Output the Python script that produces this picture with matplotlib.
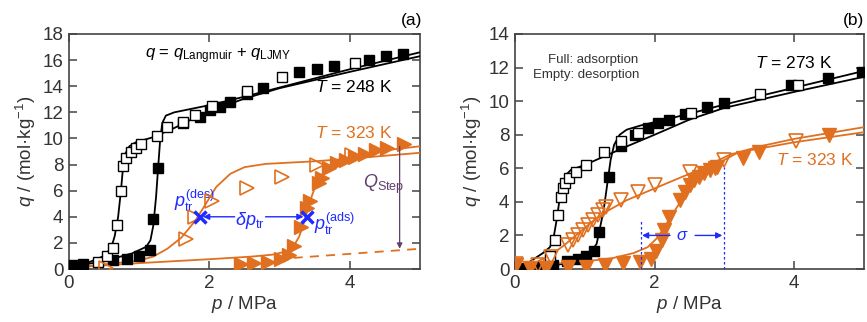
import matplotlib
matplotlib.use("Agg")
import matplotlib.pyplot as plt

plt.rcParams['font.family'] = ['Liberation Sans', 'DejaVu Sans']
plt.rcParams['mathtext.fontset'] = 'custom'
plt.rcParams['mathtext.rm'] = 'Liberation Sans'
plt.rcParams['mathtext.it'] = 'Liberation Sans:italic'
plt.rcParams['mathtext.sf'] = 'Liberation Sans'

ORANGE = '#E0701F'
BLUE = '#1E2BFF'
PURPLE = '#5E3F6E'
TXT = '#333333'

# ---------------- Panel (a) data ----------------
a248_ads_p = [0.04, 0.2, 0.63, 0.82, 1.0, 1.15, 1.2, 1.27, 1.63, 1.87, 2.01, 2.15, 2.29, 2.53, 2.76, 3.28, 3.53, 3.77, 4.27, 4.51, 4.76]
a248_ads_q = [0.3, 0.4, 0.72, 0.8, 1.0, 1.43, 3.8, 7.7, 11.15, 11.66, 12.17, 12.4, 12.8, 13.4, 13.85, 15.1, 15.3, 15.55, 16.0, 16.3, 16.5]
a248_des_p = [0.42, 0.54, 0.63, 0.69, 0.74, 0.77, 0.81, 0.88, 0.95, 1.03, 1.25, 1.40, 1.63, 1.80, 2.03, 2.53, 3.03, 4.07]
a248_des_q = [0.55, 1.0, 1.6, 3.35, 5.95, 7.9, 8.5, 9.0, 9.3, 9.55, 10.2, 10.84, 11.27, 11.8, 12.48, 13.6, 14.7, 15.8]

a248_fit_ads_p = [0, 0.5, 0.9, 1.1, 1.16, 1.2, 1.24, 1.27, 1.3, 1.33, 1.38, 1.5, 2.0, 2.5, 3.0, 4.0, 5.0]
a248_fit_ads_q = [0.15, 0.6, 1.2, 1.7, 2.2, 3.3, 5.5, 7.8, 10.0, 11.2, 11.75, 12.0, 12.55, 13.2, 13.9, 15.3, 16.6]
a248_fit_des_p = [0, 0.3, 0.5, 0.6, 0.65, 0.7, 0.74, 0.77, 0.8, 0.86, 0.95, 1.2, 1.5, 1.8, 2.0, 2.5, 3.0, 4.0, 5.0]
a248_fit_des_q = [0.15, 0.55, 1.0, 1.6, 2.5, 4.0, 6.0, 7.8, 8.8, 9.4, 9.7, 10.1, 10.8, 11.6, 12.1, 13.05, 13.85, 15.1, 16.3]

a323_ads_p = [2.45, 2.64, 2.83, 3.02, 3.14, 3.21, 3.3, 3.39, 3.44, 3.56, 3.6, 3.7, 3.82, 3.94, 4.08, 4.22, 4.37, 4.53, 4.77]
a323_ads_q = [0.4, 0.46, 0.54, 0.8, 1.05, 1.8, 3.2, 4.7, 5.2, 6.6, 7.0, 7.7, 8.1, 8.35, 8.6, 8.8, 9.1, 9.3, 9.6]
a323_des_p = [0.53, 1.66, 1.80, 2.04, 2.54, 3.03, 3.53, 4.03]
a323_des_q = [0.08, 2.3, 4.0, 5.2, 6.2, 7.05, 8.0, 8.7]

a323_fit_ads_p = [0, 1.0, 2.0, 2.6, 2.9, 3.1, 3.2, 3.28, 3.35, 3.42, 3.5, 3.6, 3.75, 3.95, 4.25, 4.6, 5.0]
a323_fit_ads_q = [0.1, 0.45, 0.75, 0.95, 1.1, 1.35, 1.75, 2.5, 3.6, 5.0, 6.2, 7.2, 7.9, 8.4, 8.85, 9.15, 9.4]
a323_fit_des_p = [0, 0.5, 1.0, 1.2, 1.4, 1.6, 1.8, 1.95, 2.1, 2.3, 2.5, 2.8, 3.5, 4.0, 5.0]
a323_fit_des_q = [0.1, 0.35, 0.65, 0.95, 1.55, 2.4, 3.7, 5.0, 6.3, 7.3, 7.8, 8.05, 8.25, 8.45, 8.9]
a323_base_p = [3.2, 5.0]
a323_base_q = [0.85, 1.55]

ptr_des = (1.86, 4.0)
ptr_ads = (3.39, 4.0)
qstep_p = 4.71
qstep_q = (9.4, 1.55)

# ---------------- Panel (b) data ----------------
b273_ads_p = [0.08, 0.3, 0.55, 0.75, 0.9, 1.02, 1.13, 1.2, 1.35, 1.52, 1.72, 1.9, 2.05, 2.2, 2.44, 2.75, 3.0, 3.96, 4.48, 4.97]
b273_ads_q = [0.05, 0.1, 0.25, 0.45, 0.6, 0.8, 1.1, 2.2, 5.5, 7.3, 8.0, 8.4, 8.7, 8.9, 9.25, 9.65, 9.9, 10.95, 11.35, 11.75]
b273_des_p = [0.5, 0.58, 0.62, 0.66, 0.69, 0.72, 0.77, 0.87, 1.02, 1.27, 1.52, 1.76, 2.52, 3.51, 4.05]
b273_des_q = [0.75, 1.75, 3.2, 4.3, 4.8, 5.1, 5.4, 5.8, 6.2, 7.0, 7.6, 8.1, 9.3, 10.45, 10.95]

b273_fit_ads_p = [0, 0.5, 0.9, 1.07, 1.17, 1.22, 1.27, 1.32, 1.37, 1.42, 1.5, 1.6, 1.8, 2.5, 3.0, 4.0, 5.0]
b273_fit_ads_q = [0.0, 0.15, 0.5, 0.9, 1.5, 2.5, 3.5, 5.0, 6.5, 7.4, 8.0, 8.3, 8.55, 9.25, 9.8, 10.8, 11.8]
b273_fit_des_p = [0.1, 0.2, 0.4, 0.5, 0.55, 0.6, 0.64, 0.68, 0.73, 0.8, 1.0, 1.3, 1.6, 2.0, 2.5, 3.0, 4.0, 5.0]
b273_fit_des_q = [0.0, 0.4, 0.95, 1.3, 1.8, 3.0, 4.2, 5.0, 5.6, 5.9, 6.2, 6.75, 7.3, 8.0, 8.9, 9.6, 10.55, 11.45]

b323_ads_p = [0.02, 0.21, 0.45, 0.76, 1.02, 1.29, 1.55, 1.79, 1.95, 2.02, 2.1, 2.14, 2.21, 2.36, 2.43, 2.5, 2.57, 2.64, 2.71, 2.79, 2.86, 2.9, 3.26, 3.5, 4.5]
b323_ads_q = [0.22, 0.05, 0.05, 0.14, 0.14, 0.24, 0.34, 0.43, 0.6, 1.1, 1.7, 2.3, 3.1, 4.1, 4.6, 5.0, 5.3, 5.5, 5.7, 5.9, 6.0, 6.1, 6.6, 7.0, 8.0]
b323_des_p = [0.02, 0.33, 0.52, 0.76, 0.83, 0.9, 0.98, 1.05, 1.12, 1.19, 1.26, 1.31, 1.52, 1.76, 2.0, 2.5, 3.0, 4.02]
b323_des_q = [0.3, 0.24, 0.73, 1.43, 1.73, 2.02, 2.32, 2.62, 2.92, 3.2, 3.5, 3.7, 4.1, 4.6, 5.0, 5.8, 6.5, 7.6]

b323_fit_ads_p = [0, 0.5, 1.0, 1.4, 1.7, 1.9, 2.05, 2.2, 2.4, 2.6, 2.8, 3.0, 3.2, 3.5, 4.0, 4.5, 5.0]
b323_fit_ads_q = [0.15, 0.3, 0.45, 0.65, 0.95, 1.3, 1.9, 2.9, 4.2, 5.2, 5.9, 6.5, 6.95, 7.3, 7.75, 8.1, 8.45]
b323_fit_des_p = [0, 0.3, 0.5, 0.7, 0.9, 1.1, 1.3, 1.6, 2.0, 2.4, 2.7, 2.9, 3.1, 3.4, 4.0, 4.5, 5.0]
b323_fit_des_q = [0.05, 0.4, 0.8, 1.4, 2.1, 2.8, 3.4, 4.1, 4.8, 5.5, 6.0, 6.45, 6.85, 7.1, 7.55, 7.85, 8.15]

sigma_p = (1.8, 2.99)
sigma_top = (2.9, 6.05)
sigma_q = 2.0

xticks = [0, 2, 4]
a_yticks = [0, 2, 4, 6, 8, 10, 12, 14, 16, 18]
b_yticks = [0, 2, 4, 6, 8, 10, 12, 14]

fig = plt.figure(figsize=(8.67, 3.22), dpi=100)
W, H = 867, 322
axA = fig.add_axes([69 / W, 1 - 269 / H, 351 / W, 235 / H])
axB = fig.add_axes([515 / W, 1 - 269 / H, 349 / W, 235 / H])


def style(ax, ylim, yticks):
    ax.set_xlim(0, 5)
    ax.set_ylim(*ylim)
    ax.set_xticks(xticks)
    ax.set_yticks(yticks)
    ax.tick_params(direction='in', length=6, width=1.1, top=True, right=True,
                   labelsize=13.5, colors='#444444', labelcolor=TXT, pad=4)
    for s in ax.spines.values():
        s.set_color('#444444')
        s.set_linewidth(1.2)
    ax.set_xlabel('$p$ / MPa', fontsize=13.5, color=TXT, labelpad=2)
    ax.set_ylabel('$q$ / (mol·kg$^{-1}$)', fontsize=13.5, color=TXT, labelpad=3)


sq = dict(marker='s', ms=7, mew=1.0, ls='none', zorder=4)
lw = 1.3

# ---- Panel (a) ----
ax = axA
style(ax, (0, 18), a_yticks)
ax.plot(a248_fit_ads_p, a248_fit_ads_q, color='black', lw=lw, zorder=3)
ax.plot(a248_fit_des_p, a248_fit_des_q, color='black', lw=lw, zorder=3)
ax.plot(a323_fit_ads_p, a323_fit_ads_q, color=ORANGE, lw=lw, zorder=3)
ax.plot(a323_fit_des_p, a323_fit_des_q, color=ORANGE, lw=lw, zorder=3)
ax.plot(a323_base_p, a323_base_q, color=ORANGE, lw=lw, ls=(0, (5, 4)), zorder=3)
ax.plot(a248_ads_p, a248_ads_q, mfc='black', mec='black', **sq)
ax.plot(a248_des_p, a248_des_q, mfc='white', mec='black', **sq)
ax.plot(a323_ads_p, a323_ads_q, marker='>', ms=10, ls='none', mfc=ORANGE, mec=ORANGE, zorder=4)
ax.plot(a323_des_p, a323_des_q, marker='>', ms=10, ls='none', mfc='none', mec=ORANGE, mew=1.2, zorder=4)
ax.plot([ptr_des[0], ptr_ads[0]], [ptr_des[1], ptr_ads[1]], marker='x', ms=9, mew=2.5,
        ls='none', color=BLUE, zorder=6)
ax.annotate('', xy=(ptr_des[0] + 0.05, ptr_des[1]), xytext=(2.36, ptr_des[1]),
            arrowprops=dict(arrowstyle='-|>', color=BLUE, lw=1.0, mutation_scale=9,
                            shrinkA=0, shrinkB=0), zorder=6)
ax.annotate('', xy=(ptr_ads[0] - 0.05, ptr_ads[1]), xytext=(2.8, ptr_ads[1]),
            arrowprops=dict(arrowstyle='-|>', color=BLUE, lw=1.0, mutation_scale=9,
                            shrinkA=0, shrinkB=0), zorder=6)
ax.text(2.58, 3.75, r'$\delta p_{\mathrm{tr}}$', color=BLUE, fontsize=13, ha='center', va='center')
ax.text(1.79, 5.25, r'$p_{\mathrm{tr}}^{(\mathrm{des})}$', color=BLUE, fontsize=13, ha='center', va='center')
ax.text(3.78, 3.5, r'$p_{\mathrm{tr}}^{(\mathrm{ads})}$', color=BLUE, fontsize=13, ha='center', va='center')
ax.annotate('', xy=(qstep_p, qstep_q[1]), xytext=(qstep_p, qstep_q[0]),
            arrowprops=dict(arrowstyle='-|>', color=PURPLE, lw=0.9, mutation_scale=8,
                            shrinkA=0, shrinkB=0), zorder=6)
ax.text(4.49, 6.5, r'$Q_{\mathrm{Step}}$', color=PURPLE, fontsize=13, ha='center', va='center')
ax.text(2.13, 16.3, r'$q$ = $q_{\mathrm{Langmuir}}$ + $q_{\mathrm{LJMY}}$', color='black',
        fontsize=12, ha='center', va='center')
ax.text(4.06, 13.95, r'$T$ = 248 K', color='black', fontsize=12.5, ha='center', va='center')
ax.text(4.05, 10.4, r'$T$ = 323 K', color=ORANGE, fontsize=12.5, ha='center', va='center')
fig.text(412 / W, 1 - 21 / H, '(a)', fontsize=12.5, color='black', ha='center', va='center')

# ---- Panel (b) ----
ax = axB
style(ax, (0, 14), b_yticks)
ax.plot(b273_fit_ads_p, b273_fit_ads_q, color='black', lw=lw, zorder=3)
ax.plot(b273_fit_des_p, b273_fit_des_q, color='black', lw=lw, zorder=3)
ax.plot(b323_fit_ads_p, b323_fit_ads_q, color=ORANGE, lw=lw, zorder=3)
ax.plot(b323_fit_des_p, b323_fit_des_q, color=ORANGE, lw=lw, zorder=3)
ax.plot(b273_ads_p, b273_ads_q, mfc='black', mec='black', **sq)
ax.plot(b273_des_p, b273_des_q, mfc='white', mec='black', **sq)
ax.plot(b323_ads_p, b323_ads_q, marker='v', ms=10, ls='none', mfc=ORANGE, mec=ORANGE, zorder=4)
ax.plot(b323_des_p, b323_des_q, marker='v', ms=10, ls='none', mfc='none', mec=ORANGE, mew=1.2, zorder=4)
for xp, top in zip(sigma_p, sigma_top):
    ax.plot([xp, xp], [0, top], color=BLUE, lw=0.9, ls=(0, (2, 2)), zorder=5)
ax.annotate('', xy=(sigma_p[0] + 0.02, sigma_q), xytext=(2.22, sigma_q),
            arrowprops=dict(arrowstyle='-|>', color=BLUE, lw=1.0, mutation_scale=9,
                            shrinkA=0, shrinkB=0), zorder=6)
ax.annotate('', xy=(sigma_p[1] - 0.02, sigma_q), xytext=(2.58, sigma_q),
            arrowprops=dict(arrowstyle='-|>', color=BLUE, lw=1.0, mutation_scale=9,
                            shrinkA=0, shrinkB=0), zorder=6)
ax.text(2.4, 2.0, r'$\sigma$', color=BLUE, fontsize=12, ha='center', va='center')
ax.text(1.76, 12.45, 'Full: adsorption', color=TXT, fontsize=9.5, ha='right', va='center')
ax.text(1.78, 11.55, 'Empty: desorption', color=TXT, fontsize=9.5, ha='right', va='center')
ax.text(4.0, 12.3, r'$T$ = 273 K', color='black', fontsize=12.5, ha='center', va='center')
ax.text(4.3, 6.5, r'$T$ = 323 K', color=ORANGE, fontsize=12.5, ha='center', va='center')
fig.text(853 / W, 1 - 21 / H, '(b)', fontsize=12.5, color='black', ha='center', va='center')

fig.savefig('out.png', dpi=100)
